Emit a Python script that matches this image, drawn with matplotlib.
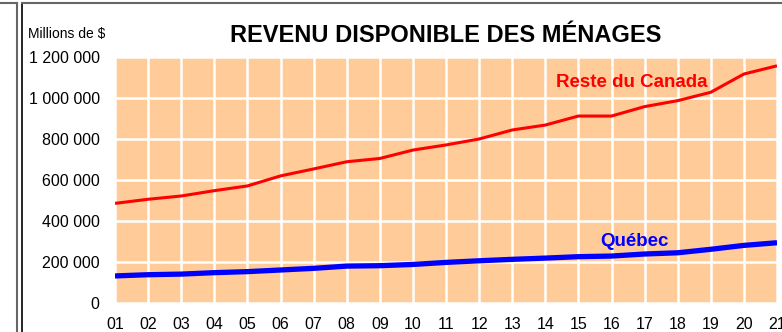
import matplotlib
matplotlib.use('Agg')
import matplotlib.pyplot as plt
from matplotlib.lines import Line2D
from matplotlib.ticker import FuncFormatter

plt.rcParams['font.family'] = ['Liberation Sans', 'DejaVu Sans']

# Disposable income, millions of dollars
years = list(range(1, 22))
year_labels = [f"{y:02d}" for y in years]
reste_canada = [486000, 506000, 522000, 548000, 571000, 620000, 654000, 689000, 705000, 746000,
                771000, 800000, 844000, 868000, 912000, 912000, 958000, 987000, 1028000, 1117000, 1157000]
quebec = [132000, 138000, 141000, 148000, 153000, 161000, 169000, 180000, 182000, 188000,
          198000, 206000, 213000, 219000, 226000, 229000, 239000, 245000, 262000, 281000, 294000]
y_ticks = [0, 200000, 400000, 600000, 800000, 1000000, 1200000]

fig = plt.figure(figsize=(7.82, 3.32), dpi=100)
ax = fig.add_axes([115 / 782, 1 - 303 / 332, 662 / 782, 246 / 332])
ax.set_facecolor('#FFCC99')

ax.plot(years, reste_canada, color='#FF0000', lw=2.2, solid_capstyle='butt', zorder=3)
ax.plot(years, quebec, color='#0000FF', lw=3.8, solid_capstyle='butt', zorder=3)

ax.set_xlim(1, 21)
ax.set_ylim(0, 1200000)
ax.set_xticks(years)
ax.set_xticklabels(year_labels)
ax.set_yticks(y_ticks)
ax.yaxis.set_major_formatter(FuncFormatter(lambda v, p: f"{int(v):,}".replace(',', ' ')))
ax.tick_params(length=0, labelsize=11.5, colors='black')
ax.tick_params(axis='y', pad=11)
ax.tick_params(axis='x', pad=10)
ax.grid(True, color='white', lw=1.8)
ax.set_axisbelow(True)
for s in ax.spines.values():
    s.set_visible(False)

ax.text(16.6, 1078000, 'Reste du Canada', color='#FF0000', fontsize=13.5, fontweight='bold',
        ha='center', va='center')
ax.text(16.7, 298000, 'Québec', color='#0000FF', fontsize=13.5, fontweight='bold',
        ha='center', va='center')

fig.text(446 / 782, 1 - 36 / 332, 'REVENU DISPONIBLE DES MÉNAGES', fontsize=17, fontweight='bold',
         ha='center', va='center')
fig.text(28 / 782, 1 - 34 / 332, 'Millions de $', fontsize=10, ha='left', va='center')

# frame lines around the panel
fig.add_artist(Line2D([17 / 782, 17 / 782], [0, 1 - 3 / 332], transform=fig.transFigure, color='#666666', lw=1.5))
fig.add_artist(Line2D([22 / 782, 22 / 782], [0, 1 - 3 / 332], transform=fig.transFigure, color='black', lw=1.2))
fig.add_artist(Line2D([0, 17 / 782], [1 - 3 / 332, 1 - 3 / 332], transform=fig.transFigure, color='#666666', lw=1.5))
fig.add_artist(Line2D([22 / 782, 1], [1 - 3 / 332, 1 - 3 / 332], transform=fig.transFigure, color='#666666', lw=1.5))

fig.savefig('out.png', dpi=100)
